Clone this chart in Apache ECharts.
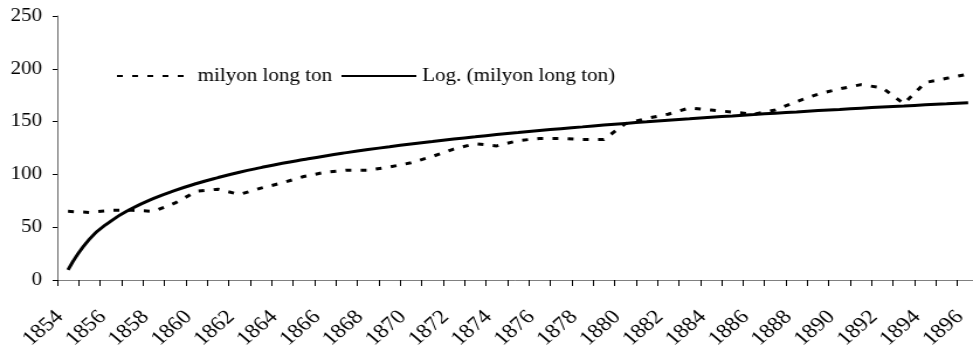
<!DOCTYPE html>
<html>
<head>
<meta charset="utf-8">
<script src="https://cdn.jsdelivr.net/npm/echarts@6/dist/echarts.min.js"></script>
<style>
  html, body { margin: 0; padding: 0; overflow: hidden; background: #fff; }
  /* the source picture is stretched sideways, so the chart is drawn narrower and widened */
  #chart { width: 832px; height: 349px; transform: scaleX(1.16947); transform-origin: 0 0; }
</style>
</head>
<body>
<div id="chart"></div>
<script type="text/javascript">
  // yillar 1854 - 1896
  var years = [];
  for (var y = 1854; y <= 1896; y++) { years.push(String(y)); }

  // milyon long ton (okunan degerler)
  var tonnage = [65, 64, 66, 66, 65, 73, 84, 86, 81, 87,
                 92, 98, 102, 104, 104, 107, 111, 117, 124, 129,
                 127, 132, 134, 134, 133, 133, 148, 153, 157, 163,
                 161, 159, 157, 161, 169, 176, 181, 185, 182, 167,
                 187, 191, 195];

  // Log. trend cizgisi
  var trend = [9.5, 38.7, 55.8, 67.9, 77.3, 84.9, 91.4, 97.0, 102.0, 106.4,
               110.5, 114.1, 117.5, 120.6, 123.5, 126.2, 128.8, 131.2, 133.5, 135.6,
               137.7, 139.6, 141.5, 143.3, 145.0, 146.7, 148.3, 149.8, 151.3, 152.7,
               154.1, 155.4, 156.7, 158.0, 159.2, 160.4, 161.5, 162.7, 163.8, 164.8,
               165.9, 166.9, 167.8];

  var yTicks = [0, 50, 100, 150, 200, 250];

  var font = 'Liberation Serif';
  var myChart = echarts.init(document.getElementById('chart'));
  myChart.setOption({
    animation: false,
    backgroundColor: '#fff',
    textStyle: { fontFamily: font },
    legend: {
      left: 94,
      top: 62,
      itemWidth: 64,
      itemHeight: 14,
      itemGap: 7,
      // no marker dot on the legend lines
      itemStyle: { color: 'rgba(0,0,0,0)', borderWidth: 0 },
      textStyle: { fontFamily: font, fontSize: 18, color: '#000', lineHeight: 18 },
      data: ['milyon long ton', 'Log. (milyon long ton)']
    },
    grid: {
      left: 49,
      top: 16,
      bottom: 69,
      width: 788,
      containLabel: false,
      outerBoundsMode: 'none'
    },
    xAxis: {
      type: 'category',
      boundaryGap: true,
      data: years,
      axisLine: { lineStyle: { color: '#808080', width: 1 } },
      axisTick: { show: true, interval: 0, length: 6, lineStyle: { color: '#000' } },
      axisLabel: {
        interval: 1,
        rotate: 45,
        margin: 27,
        padding: [0, 10, 0, 0],
        fontFamily: font,
        fontSize: 20,
        color: '#000'
      },
      splitLine: { show: false }
    },
    yAxis: {
      type: 'value',
      min: yTicks[0],
      max: yTicks[yTicks.length - 1],
      interval: 50,
      axisLine: { show: true, lineStyle: { color: '#666', width: 1 } },
      axisTick: { show: true, length: 4, lineStyle: { color: '#000' } },
      axisLabel: { margin: 13, fontFamily: font, fontSize: 18, color: '#000' },
      splitLine: { show: false }
    },
    series: [
      {
        name: 'milyon long ton',
        type: 'line',
        data: tonnage,
        symbol: 'none',
        lineStyle: { color: '#000', width: 3, type: [5, 8] },
        itemStyle: { color: '#000' }
      },
      {
        name: 'Log. (milyon long ton)',
        type: 'line',
        data: trend,
        symbol: 'none',
        smooth: true,
        lineStyle: { color: '#000', width: 3, type: 'solid' },
        itemStyle: { color: '#000' }
      }
    ]
  });
</script>
</body>
</html>
